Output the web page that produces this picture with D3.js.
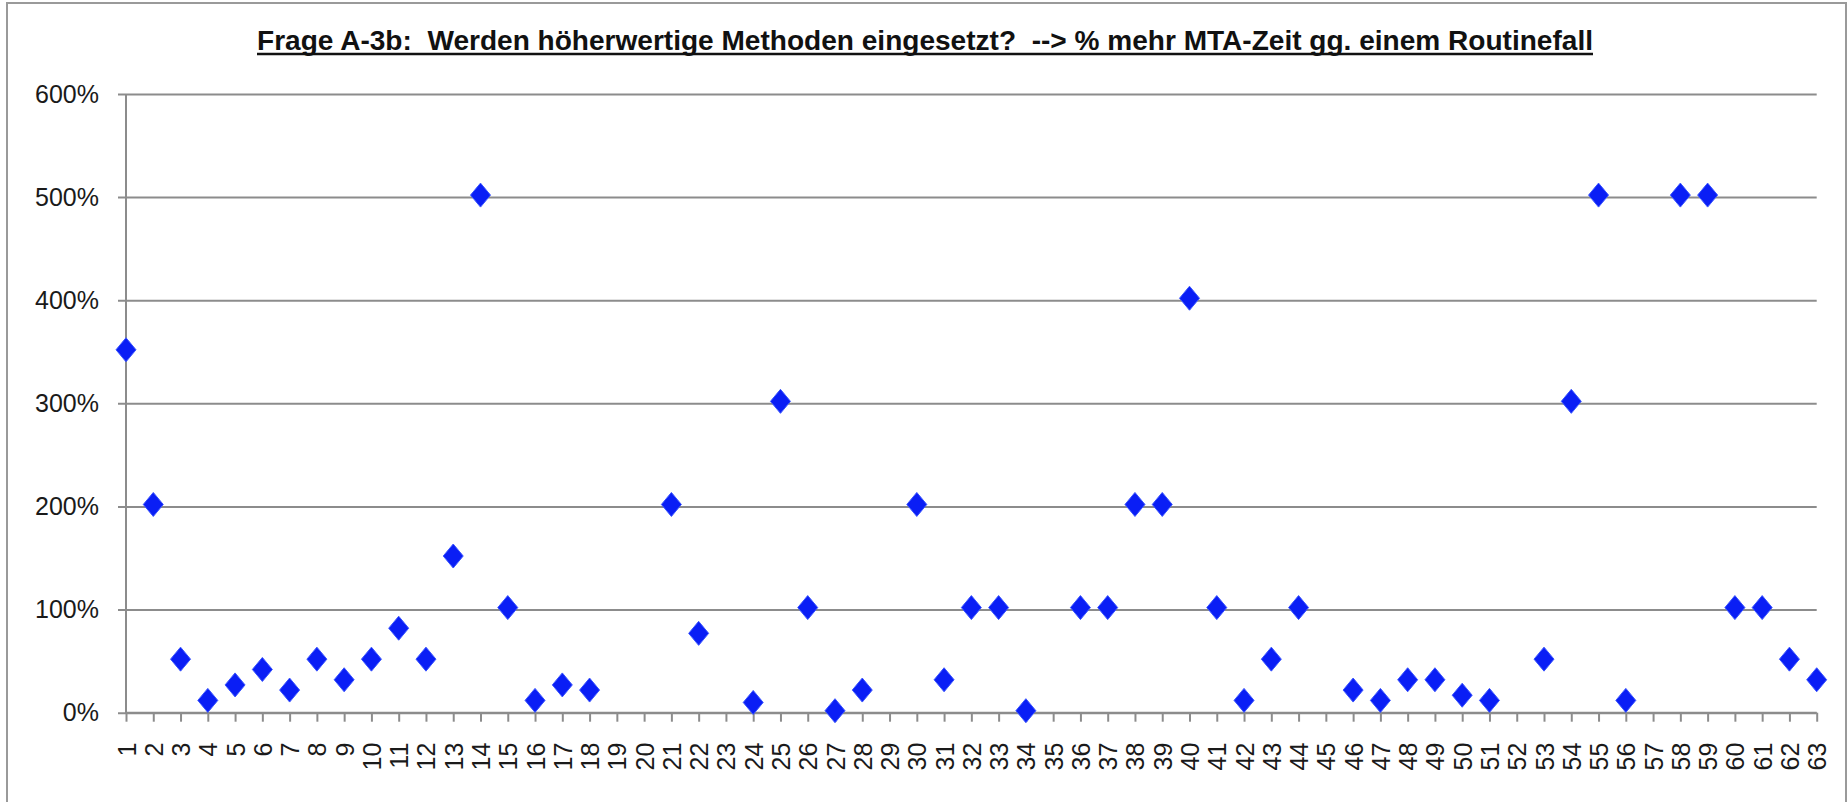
<!DOCTYPE html>
<html>
<head>
<meta charset="utf-8">
<script src="https://cdn.jsdelivr.net/npm/d3@7"></script>
<style>
  body { margin: 0; background: #fff; }
  svg { display: block; }
  .tick text { font-family: "Liberation Sans Narrow", "Arial Narrow", "Liberation Sans", Arial, sans-serif; font-stretch: condensed; }
</style>
</head>
<body>
<div id="chart"></div>
<script>
'use strict';

// chart data: question number -> % more MTA time (null = no answer)
let categories = d3.range(1, 64).map(String);
let values = [
  350, 200, 50, 10, 25, 40, 20, 50, 30, 50,
  80, 50, 150, 500, 100, 10, 25, 20, null, null,
  200, 75, null, 8, 300, 100, 0, 20, null, 200,
  30, 100, 100, 0, null, 100, 100, 200, 200, 400,
  100, 10, 50, 100, null, 20, 10, 30, 30, 15,
  10, null, 50, 300, 500, 10, null, 500, 500, 100,
  100, 50, 30
];
let yTicks = [0, 100, 200, 300, 400, 500, 600];
let title = 'Frage A-3b:  Werden höherwertige Methoden eingesetzt?  --> % mehr MTA-Zeit gg. einem Routinefall';

let w = 1847;
let h = 802;
let plotLeft = 126, plotRight = 1816.7, plotTop = 94, plotBottom = 712.7;

let svg = d3.select('#chart').append('svg')
  .attr('width', w)
  .attr('height', h);

// outer frame
svg.append('rect')
  .attr('x', 7).attr('y', 3)
  .attr('width', 1839).attr('height', 830)
  .attr('fill', 'none')
  .attr('stroke', '#9a9a9a')
  .attr('stroke-width', 2);

// title
svg.append('text')
  .attr('x', 925).attr('y', 50)
  .attr('text-anchor', 'middle')
  .attr('textLength', 1336)
  .attr('lengthAdjust', 'spacingAndGlyphs')
  .style('white-space', 'pre')
  .style('font-family', '"Liberation Sans Narrow", "Arial Narrow", "Liberation Sans", sans-serif')
  .style('font-weight', 'bold')
  .style('font-size', '27px')
  .attr('fill', '#111')
  .text(title);

svg.append('line')
  .attr('x1', 257).attr('x2', 1593)
  .attr('y1', 54).attr('y2', 54)
  .attr('stroke', '#111')
  .attr('stroke-width', 2.5);

let x = d3.scalePoint()
  .domain(categories)
  .range([plotLeft, plotRight])
  .padding(0);

let y = d3.scaleLinear()
  .domain([0, 600])
  .range([plotBottom, plotTop]);

// y axis with gridlines
let yAxis = svg.append('g')
  .attr('transform', `translate(${plotLeft},0)`)
  .call(d3.axisLeft(y)
    .tickValues(yTicks)
    .tickSize(-(plotRight - plotLeft))
    .tickPadding(27)
    .tickFormat(d => d + '%'));

yAxis.select('.domain').remove();
yAxis.selectAll('.tick line')
  .attr('x1', -8)
  .attr('stroke', '#8c8c8c')
  .attr('stroke-width', 2);
yAxis.selectAll('.tick text')
  .attr('fill', '#1a1a1a')
  .style('font-size', '25px');

// vertical axis line
svg.append('line')
  .attr('x1', plotLeft).attr('x2', plotLeft)
  .attr('y1', plotTop).attr('y2', plotBottom + 1)
  .attr('stroke', '#8c8c8c')
  .attr('stroke-width', 2);

// x axis
let xAxis = svg.append('g')
  .attr('transform', `translate(0,${plotBottom})`)
  .call(d3.axisBottom(x).tickSize(9).tickPadding(4));

xAxis.select('.domain')
  .attr('stroke', '#8c8c8c')
  .attr('stroke-width', 2)
  .attr('d', `M${plotLeft},0H${plotRight}`);
xAxis.selectAll('.tick line')
  .attr('stroke', '#8c8c8c')
  .attr('stroke-width', 2);
xAxis.selectAll('.tick text')
  .attr('fill', '#1a1a1a')
  .style('font-size', '25px')
  .attr('text-anchor', 'end')
  .attr('transform', 'rotate(-90)')
  .attr('x', -30)
  .attr('y', 0)
  .attr('dy', '0.36em');

// diamond markers
let points = categories.map((c, i) => ({ c: c, v: values[i] }))
  .filter(d => d.v !== null);

svg.append('g')
  .selectAll('path')
  .data(points)
  .enter()
  .append('path')
  .attr('d', 'M0,-12L10,0L0,12L-10,0Z')
  .attr('transform', d => `translate(${x(d.c)},${y(d.v) - 2})`)
  .attr('fill', '#0a1ef5')
  .attr('stroke', '#3a55ff')
  .attr('stroke-width', 1);
</script>
</body>
</html>
